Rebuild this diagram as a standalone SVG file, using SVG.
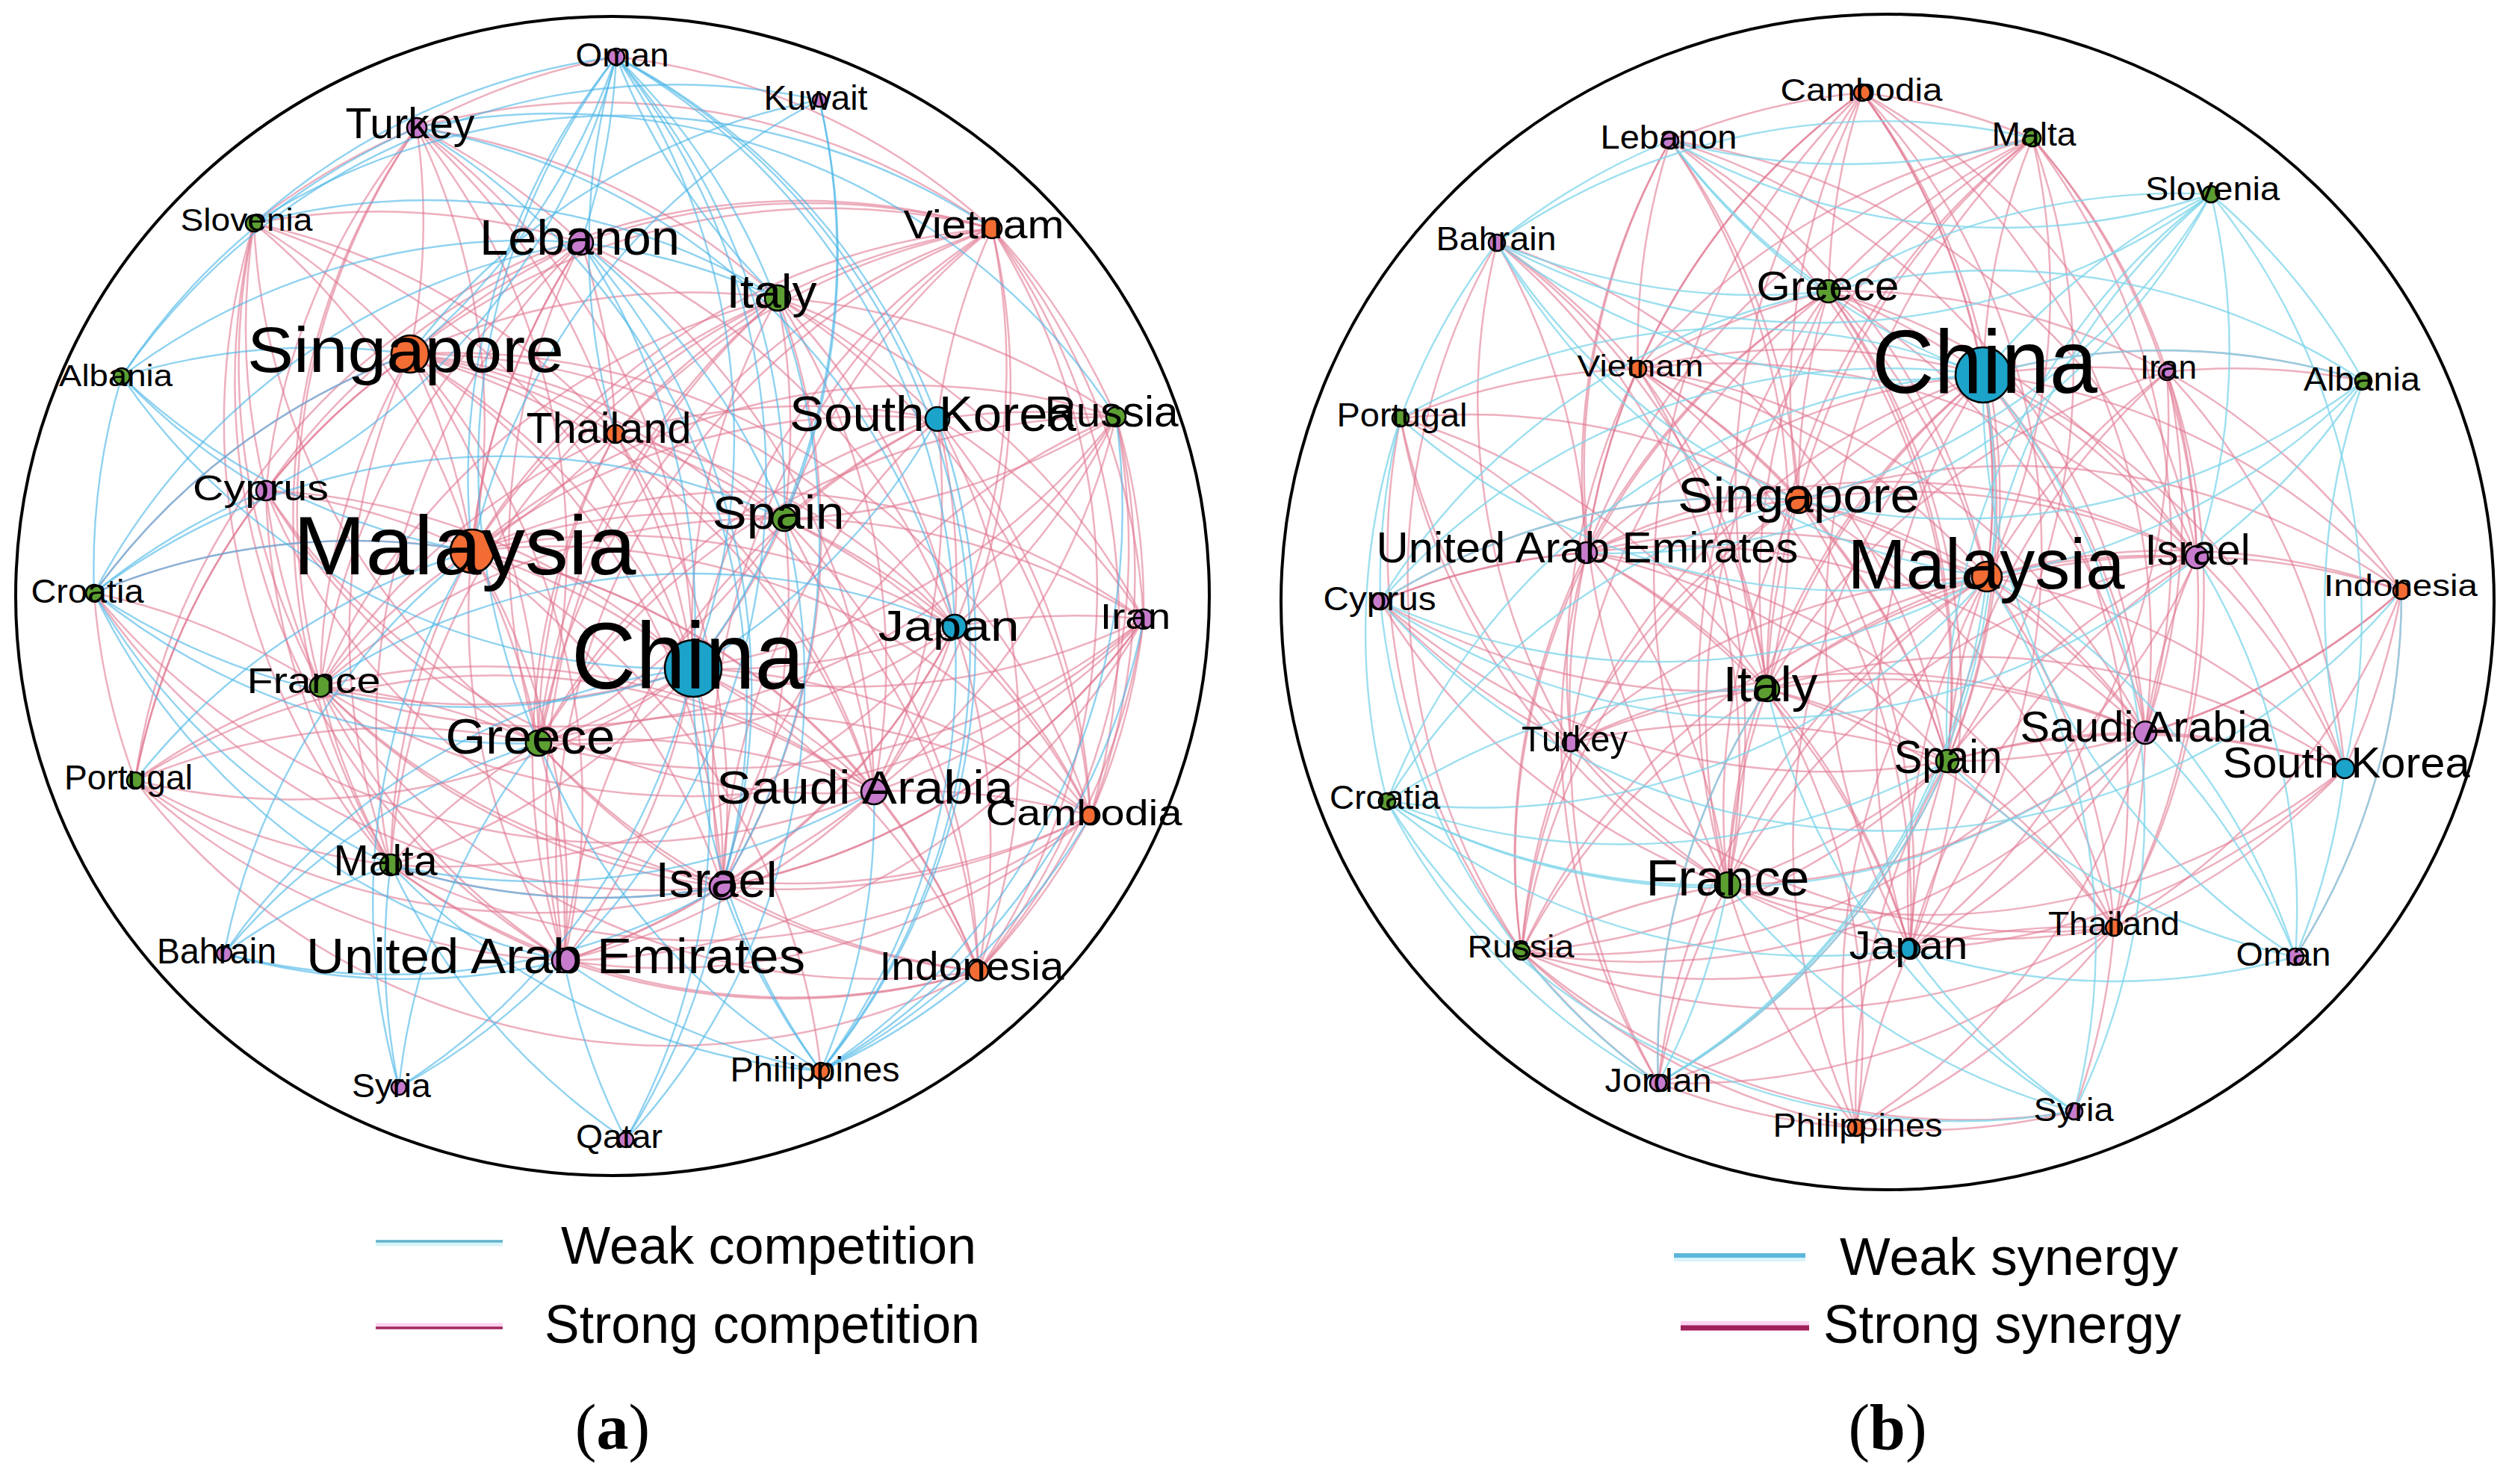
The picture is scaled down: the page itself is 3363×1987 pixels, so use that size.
<svg xmlns="http://www.w3.org/2000/svg" width="3363" height="1987" viewBox="0 0 3363 1987">
<style>
.bg{fill:#fff}
.ring{fill:none;stroke:#000;stroke-width:4}
.pk path{fill:none;stroke:#e0768f;stroke-opacity:.58;stroke-width:2.5}
.bla path{fill:none;stroke:#4ab6e6;stroke-opacity:.62;stroke-width:2.4}
.blb path{fill:none;stroke:#7bd4e9;stroke-opacity:.75;stroke-width:2.4}
.n circle{stroke:#000;stroke-width:2.6}
.b{fill:#1ca3c9}.o{fill:#f26c33}.g{fill:#5c9e31}.p{fill:#c77bcc}
text{font-family:"Liberation Sans",Arial,sans-serif;fill:#000}
.n text{text-anchor:middle}
.cap{font-family:"Liberation Serif","Times New Roman",serif;text-anchor:middle}
</style>
<rect class="bg" x="0" y="0" width="3363" height="1987"/>
<ellipse class="ring" cx="820" cy="798" rx="799" ry="776"/>
<ellipse class="ring" cx="2527" cy="806" rx="812" ry="787"/>

<g id="connectors-a">
<g class="pk">
<path d="M825 76A900 900 0 0 1 1328 306"/><path d="M825 76A900 900 0 0 0 558 171"/>
<path d="M558 171A900 900 0 0 1 549 474"/><path d="M558 171A900 900 0 0 1 632 738"/><path d="M558 171A900 900 0 0 1 778 325"/><path d="M558 171A900 900 0 0 1 1328 306"/><path d="M558 171A900 900 0 0 1 1041 399"/><path d="M558 171A900 900 0 0 0 356 657"/><path d="M558 171A900 900 0 0 0 429 919"/><path d="M558 171A900 900 0 0 1 928 895"/><path d="M558 171A900 900 0 0 0 340 299"/><path d="M558 171A900 900 0 0 1 721 995"/><path d="M558 171A900 900 0 0 0 523 1158"/><path d="M558 171A900 900 0 0 1 824 581"/>
<path d="M340 299A900 900 0 0 1 549 474"/><path d="M340 299A900 900 0 0 1 632 738"/><path d="M340 299A900 900 0 0 0 356 657"/><path d="M340 299A900 900 0 0 0 429 919"/><path d="M340 299A900 900 0 0 1 928 895"/><path d="M340 299A900 900 0 0 1 778 325"/><path d="M340 299A900 900 0 0 0 721 995"/><path d="M340 299A900 900 0 0 1 824 581"/><path d="M340 299A900 900 0 0 0 523 1158"/><path d="M340 299A900 900 0 0 0 755 1286"/>
<path d="M778 325A900 900 0 0 0 549 474"/><path d="M778 325A900 900 0 0 0 632 738"/><path d="M778 325A900 900 0 0 1 1328 306"/><path d="M778 325A900 900 0 0 1 824 581"/><path d="M778 325A900 900 0 0 1 1170 1060"/><path d="M778 325A900 900 0 0 0 721 995"/><path d="M778 325A900 900 0 0 1 1278 839"/><path d="M778 325A900 900 0 0 0 755 1286"/><path d="M778 325A900 900 0 0 0 523 1158"/><path d="M778 325A900 900 0 0 0 356 657"/><path d="M778 325A900 900 0 0 0 429 919"/>
<path d="M1328 306A900 900 0 0 0 1041 399"/><path d="M1328 306A900 900 0 0 0 549 474"/><path d="M1328 306A900 900 0 0 0 632 738"/><path d="M1328 306A900 900 0 0 0 1255 561"/><path d="M1328 306A900 900 0 0 1 1494 558"/><path d="M1328 306A900 900 0 0 1 1278 839"/><path d="M1328 306A900 900 0 0 1 1531 829"/><path d="M1328 306A900 900 0 0 0 928 895"/><path d="M1328 306A900 900 0 0 1 1460 1092"/><path d="M1328 306A900 900 0 0 1 1170 1060"/><path d="M1328 306A900 900 0 0 0 967 1187"/><path d="M1328 306A900 900 0 0 1 1310 1300"/><path d="M1328 306A900 900 0 0 0 824 581"/><path d="M1328 306A900 900 0 0 0 1050 695"/><path d="M1328 306A900 900 0 0 0 721 995"/><path d="M1328 306A900 900 0 0 0 755 1286"/><path d="M1328 306A900 900 0 0 0 181 1045"/>
<path d="M1041 399A900 900 0 0 0 549 474"/><path d="M1041 399A900 900 0 0 0 632 738"/><path d="M1041 399A900 900 0 0 1 1255 561"/><path d="M1041 399A900 900 0 0 1 1494 558"/><path d="M1041 399A900 900 0 0 1 1050 695"/><path d="M1041 399A900 900 0 0 0 928 895"/><path d="M1041 399A900 900 0 0 1 1278 839"/><path d="M1041 399A900 900 0 0 1 1531 829"/><path d="M1041 399A900 900 0 0 0 721 995"/><path d="M1041 399A900 900 0 0 1 1170 1060"/><path d="M1041 399A900 900 0 0 1 967 1187"/><path d="M1041 399A900 900 0 0 0 824 581"/><path d="M1041 399A900 900 0 0 0 429 919"/><path d="M1041 399A900 900 0 0 1 1460 1092"/><path d="M1041 399A900 900 0 0 0 523 1158"/><path d="M1041 399A900 900 0 0 0 755 1286"/>
<path d="M549 474A900 900 0 0 1 632 738"/><path d="M549 474A900 900 0 0 1 824 581"/><path d="M549 474A900 900 0 0 0 356 657"/><path d="M549 474A900 900 0 0 1 1050 695"/><path d="M549 474A900 900 0 0 1 928 895"/><path d="M549 474A900 900 0 0 0 429 919"/><path d="M549 474A900 900 0 0 1 721 995"/><path d="M549 474A900 900 0 0 0 523 1158"/><path d="M549 474A900 900 0 0 1 967 1187"/><path d="M549 474A900 900 0 0 1 755 1286"/><path d="M549 474A900 900 0 0 0 126 794"/><path d="M549 474A900 900 0 0 1 1170 1060"/><path d="M549 474A900 900 0 0 1 1278 839"/><path d="M549 474A900 900 0 0 0 181 1045"/><path d="M549 474A900 900 0 0 1 1310 1300"/><path d="M549 474A900 900 0 0 1 1460 1092"/>
<path d="M824 581A900 900 0 0 1 632 738"/><path d="M824 581A900 900 0 0 1 928 895"/><path d="M824 581A900 900 0 0 1 1050 695"/><path d="M824 581A900 900 0 0 1 1255 561"/><path d="M824 581A900 900 0 0 0 721 995"/><path d="M824 581A900 900 0 0 1 967 1187"/><path d="M824 581A900 900 0 0 1 1170 1060"/><path d="M824 581A900 900 0 0 0 429 919"/><path d="M824 581A900 900 0 0 1 1278 839"/><path d="M824 581A900 900 0 0 0 755 1286"/>
<path d="M1255 561A900 900 0 0 1 1494 558"/><path d="M1255 561A900 900 0 0 0 632 738"/><path d="M1255 561A900 900 0 0 1 1278 839"/><path d="M1255 561A900 900 0 0 1 1531 829"/><path d="M1255 561A900 900 0 0 1 1170 1060"/><path d="M1255 561A900 900 0 0 1 1460 1092"/><path d="M1255 561A900 900 0 0 0 1050 695"/><path d="M1255 561A900 900 0 0 1 1310 1300"/><path d="M1255 561A900 900 0 0 0 721 995"/><path d="M1255 561A900 900 0 0 0 967 1187"/><path d="M1255 561A900 900 0 0 0 755 1286"/>
<path d="M1494 558A900 900 0 0 1 1278 839"/><path d="M1494 558A900 900 0 0 1 1531 829"/><path d="M1494 558A900 900 0 0 1 928 895"/><path d="M1494 558A900 900 0 0 1 1460 1092"/><path d="M1494 558A900 900 0 0 1 1170 1060"/><path d="M1494 558A900 900 0 0 0 632 738"/><path d="M1494 558A900 900 0 0 1 1310 1300"/><path d="M1494 558A900 900 0 0 1 1050 695"/><path d="M1494 558A900 900 0 0 0 721 995"/><path d="M1494 558A900 900 0 0 0 967 1187"/><path d="M1494 558A900 900 0 0 1 429 919"/>
<path d="M356 657A900 900 0 0 1 632 738"/><path d="M356 657A900 900 0 0 0 429 919"/><path d="M356 657A900 900 0 0 1 928 895"/><path d="M356 657A900 900 0 0 0 721 995"/><path d="M356 657A900 900 0 0 0 181 1045"/><path d="M356 657A900 900 0 0 0 523 1158"/><path d="M356 657A900 900 0 0 0 1170 1060"/><path d="M356 657A900 900 0 0 0 967 1187"/>
<path d="M1050 695A900 900 0 0 0 632 738"/><path d="M1050 695A900 900 0 0 1 928 895"/><path d="M1050 695A900 900 0 0 1 1278 839"/><path d="M1050 695A900 900 0 0 1 721 995"/><path d="M1050 695A900 900 0 0 1 1170 1060"/><path d="M1050 695A900 900 0 0 1 967 1187"/><path d="M1050 695A900 900 0 0 1 1531 829"/><path d="M1050 695A900 900 0 0 0 429 919"/><path d="M1050 695A900 900 0 0 1 1460 1092"/><path d="M1050 695A900 900 0 0 1 1310 1300"/>
<path d="M632 738A900 900 0 0 1 928 895"/><path d="M632 738A900 900 0 0 0 429 919"/><path d="M632 738A900 900 0 0 1 721 995"/><path d="M632 738A900 900 0 0 1 1278 839"/><path d="M632 738A900 900 0 0 1 1170 1060"/><path d="M632 738A900 900 0 0 1 967 1187"/><path d="M632 738A900 900 0 0 0 523 1158"/><path d="M632 738A900 900 0 0 1 755 1286"/><path d="M632 738A900 900 0 0 1 1531 829"/><path d="M632 738A900 900 0 0 1 1460 1092"/><path d="M632 738A900 900 0 0 1 1310 1300"/><path d="M632 738A900 900 0 0 0 126 794"/><path d="M632 738A900 900 0 0 1 1099 1434"/>
<path d="M126 794A900 900 0 0 1 429 919"/><path d="M126 794A900 900 0 0 0 181 1045"/><path d="M126 794A900 900 0 0 0 1170 1060"/><path d="M126 794A900 900 0 0 0 967 1187"/>
<path d="M1278 839A900 900 0 0 1 928 895"/><path d="M1278 839A900 900 0 0 1 1531 829"/><path d="M1278 839A900 900 0 0 1 1170 1060"/><path d="M1278 839A900 900 0 0 1 1460 1092"/><path d="M1278 839A900 900 0 0 1 967 1187"/><path d="M1278 839A900 900 0 0 1 1310 1300"/><path d="M1278 839A900 900 0 0 1 721 995"/><path d="M1278 839A900 900 0 0 1 755 1286"/><path d="M1278 839A900 900 0 0 1 523 1158"/>
<path d="M1531 829A900 900 0 0 1 928 895"/><path d="M1531 829A900 900 0 0 1 1170 1060"/><path d="M1531 829A900 900 0 0 1 1460 1092"/><path d="M1531 829A900 900 0 0 1 967 1187"/><path d="M1531 829A900 900 0 0 1 1310 1300"/><path d="M1531 829A900 900 0 0 1 721 995"/><path d="M1531 829A900 900 0 0 1 755 1286"/><path d="M1531 829A900 900 0 0 1 523 1158"/><path d="M1531 829A900 900 0 0 1 429 919"/>
<path d="M928 895A900 900 0 0 1 429 919"/><path d="M928 895A900 900 0 0 1 721 995"/><path d="M928 895A900 900 0 0 1 1170 1060"/><path d="M928 895A900 900 0 0 1 967 1187"/><path d="M928 895A900 900 0 0 1 523 1158"/><path d="M928 895A900 900 0 0 1 755 1286"/><path d="M928 895A900 900 0 0 1 1460 1092"/><path d="M928 895A900 900 0 0 1 1310 1300"/><path d="M928 895A900 900 0 0 1 181 1045"/>
<path d="M429 919A900 900 0 0 1 721 995"/><path d="M429 919A900 900 0 0 0 181 1045"/><path d="M429 919A900 900 0 0 0 523 1158"/><path d="M429 919A900 900 0 0 0 967 1187"/><path d="M429 919A900 900 0 0 0 755 1286"/><path d="M429 919A900 900 0 0 1 1170 1060"/><path d="M429 919A900 900 0 0 0 1310 1300"/><path d="M429 919A900 900 0 0 0 1460 1092"/>
<path d="M721 995A900 900 0 0 1 1170 1060"/><path d="M721 995A900 900 0 0 0 523 1158"/><path d="M721 995A900 900 0 0 0 967 1187"/><path d="M721 995A900 900 0 0 1 755 1286"/><path d="M721 995A900 900 0 0 0 1310 1300"/><path d="M721 995A900 900 0 0 1 1460 1092"/><path d="M721 995A900 900 0 0 0 181 1045"/>
<path d="M181 1045A900 900 0 0 0 523 1158"/><path d="M181 1045A900 900 0 0 0 967 1187"/><path d="M181 1045A900 900 0 0 0 755 1286"/><path d="M181 1045A900 900 0 0 1 1170 1060"/><path d="M181 1045A900 900 0 0 0 1310 1300"/>
<path d="M1170 1060A900 900 0 0 1 1460 1092"/><path d="M1170 1060A900 900 0 0 1 967 1187"/><path d="M1170 1060A900 900 0 0 1 1310 1300"/><path d="M1170 1060A900 900 0 0 1 755 1286"/>
<path d="M1460 1092A900 900 0 0 1 967 1187"/><path d="M1460 1092A900 900 0 0 1 1310 1300"/><path d="M1460 1092A900 900 0 0 1 755 1286"/><path d="M1460 1092A900 900 0 0 1 523 1158"/>
<path d="M523 1158A900 900 0 0 0 755 1286"/><path d="M523 1158A900 900 0 0 0 1310 1300"/><path d="M967 1187A900 900 0 0 1 755 1286"/><path d="M967 1187A900 900 0 0 0 1310 1300"/><path d="M755 1286A900 900 0 0 0 1310 1300"/>
</g>
<g class="bla">
<path d="M825 76A900 900 0 0 1 549 474"/><path d="M825 76A900 900 0 0 0 632 738"/><path d="M825 76A900 900 0 0 1 778 325"/><path d="M825 76A900 900 0 0 0 824 581"/><path d="M825 76A900 900 0 0 0 1041 399"/><path d="M825 76A900 900 0 0 1 1050 695"/><path d="M825 76A900 900 0 0 1 928 895"/><path d="M825 76A900 900 0 0 1 356 657"/><path d="M825 76A900 900 0 0 1 1255 561"/><path d="M825 76A900 900 0 0 1 1278 839"/><path d="M825 76A900 900 0 0 0 721 995"/><path d="M825 76A900 900 0 0 1 967 1187"/><path d="M825 76A900 900 0 0 1 755 1286"/><path d="M825 76A900 900 0 0 0 340 299"/><path d="M825 76A900 900 0 0 1 1099 1434"/>
<path d="M1097 134A900 900 0 0 0 549 474"/><path d="M1097 134A900 900 0 0 0 632 738"/><path d="M1097 134A900 900 0 0 1 928 895"/><path d="M1097 134A900 900 0 0 1 1050 695"/><path d="M1097 134A900 900 0 0 0 163 504"/>
<path d="M163 504A900 900 0 0 1 549 474"/><path d="M163 504A900 900 0 0 1 558 171"/><path d="M163 504A900 900 0 0 1 778 325"/><path d="M163 504A900 900 0 0 0 356 657"/><path d="M163 504A900 900 0 0 0 632 738"/><path d="M163 504A900 900 0 0 0 928 895"/><path d="M163 504A900 900 0 0 0 126 794"/>
<path d="M126 794A900 900 0 0 1 632 738"/><path d="M126 794A900 900 0 0 1 549 474"/><path d="M126 794A900 900 0 0 1 356 657"/><path d="M126 794A900 900 0 0 0 928 895"/><path d="M126 794A900 900 0 0 0 523 1158"/><path d="M126 794A900 900 0 0 0 755 1286"/><path d="M126 794A900 900 0 0 0 721 995"/><path d="M126 794A900 900 0 0 1 1050 695"/><path d="M126 794A900 900 0 0 1 778 325"/>
<path d="M300 1277A900 900 0 0 1 523 1158"/><path d="M300 1277A900 900 0 0 0 755 1286"/><path d="M300 1277A900 900 0 0 0 967 1187"/><path d="M300 1277A900 900 0 0 1 928 895"/><path d="M300 1277A900 900 0 0 1 632 738"/><path d="M300 1277A900 900 0 0 1 721 995"/>
<path d="M534 1456A900 900 0 0 1 523 1158"/><path d="M534 1456A900 900 0 0 0 755 1286"/><path d="M534 1456A900 900 0 0 1 632 738"/><path d="M534 1456A900 900 0 0 0 928 895"/><path d="M534 1456A900 900 0 0 1 721 995"/>
<path d="M838 1526A900 900 0 0 1 755 1286"/><path d="M838 1526A900 900 0 0 0 967 1187"/><path d="M838 1526A900 900 0 0 0 928 895"/><path d="M838 1526A900 900 0 0 0 1050 695"/><path d="M838 1526A900 900 0 0 1 523 1158"/>
<path d="M1099 1434A900 900 0 0 0 1170 1060"/><path d="M1099 1434A900 900 0 0 0 1278 839"/><path d="M1099 1434A900 900 0 0 0 1310 1300"/><path d="M1099 1434A900 900 0 0 1 967 1187"/><path d="M1099 1434A900 900 0 0 1 755 1286"/><path d="M1099 1434A900 900 0 0 1 928 895"/><path d="M1099 1434A900 900 0 0 0 1255 561"/><path d="M1099 1434A900 900 0 0 1 523 1158"/><path d="M1099 1434A900 900 0 0 1 721 995"/><path d="M1099 1434A900 900 0 0 0 1460 1092"/>
<path d="M778 325A900 900 0 0 1 928 895"/><path d="M778 325A900 900 0 0 1 1050 695"/><path d="M778 325A900 900 0 0 1 967 1187"/><path d="M558 171A900 900 0 0 1 967 1187"/><path d="M558 171A900 900 0 0 1 1278 839"/><path d="M558 171A900 900 0 0 1 1494 558"/><path d="M340 299A900 900 0 0 1 1041 399"/><path d="M340 299A900 900 0 0 1 1328 306"/><path d="M778 325A900 900 0 0 1 1041 399"/><path d="M1255 561A900 900 0 0 1 928 895"/><path d="M523 1158A900 900 0 0 0 1170 1060"/><path d="M523 1158A900 900 0 0 0 967 1187"/><path d="M429 919A900 900 0 0 1 1278 839"/><path d="M181 1045A900 900 0 0 1 632 738"/><path d="M1531 829A900 900 0 0 1 1099 1434"/><path d="M1494 558A900 900 0 0 1 1099 1434"/>
</g>
</g>

<g id="connectors-b">
<g class="pk">
<path d="M2493 124A900 900 0 0 0 2236 188"/><path d="M2493 124A900 900 0 0 1 2721 185"/><path d="M2493 124A900 900 0 0 0 2448 390"/><path d="M2493 124A900 900 0 0 1 2655 502"/><path d="M2493 124A900 900 0 0 0 2408 670"/><path d="M2493 124A900 900 0 0 1 2660 772"/><path d="M2493 124A900 900 0 0 0 2193 494"/><path d="M2493 124A900 900 0 0 0 2366 923"/><path d="M2493 124A900 900 0 0 1 2941 746"/><path d="M2493 124A900 900 0 0 0 2124 740"/><path d="M2493 124A900 900 0 0 1 2872 981"/><path d="M2493 124A900 900 0 0 1 2607 1019"/><path d="M2493 124A900 900 0 0 0 2313 1185"/><path d="M2493 124A900 900 0 0 1 2557 1271"/>
<path d="M2236 188A900 900 0 0 1 2408 670"/><path d="M2236 188A900 900 0 0 1 2660 772"/><path d="M2236 188A900 900 0 0 0 2124 740"/><path d="M2236 188A900 900 0 0 1 2366 923"/><path d="M2236 188A900 900 0 0 0 2193 494"/><path d="M2236 188A900 900 0 0 0 2313 1185"/><path d="M2236 188A900 900 0 0 1 2941 746"/><path d="M2236 188A900 900 0 0 1 2607 1019"/><path d="M2236 188A900 900 0 0 1 2872 981"/>
<path d="M2721 185A900 900 0 0 0 2655 502"/><path d="M2721 185A900 900 0 0 0 2448 390"/><path d="M2721 185A900 900 0 0 1 2660 772"/><path d="M2721 185A900 900 0 0 0 2408 670"/><path d="M2721 185A900 900 0 0 1 2941 746"/><path d="M2721 185A900 900 0 0 1 2607 1019"/><path d="M2721 185A900 900 0 0 0 2366 923"/><path d="M2721 185A900 900 0 0 1 2872 981"/><path d="M2721 185A900 900 0 0 0 2557 1271"/><path d="M2721 185A900 900 0 0 0 2313 1185"/><path d="M2721 185A900 900 0 0 1 2901 498"/><path d="M2721 185A900 900 0 0 0 2124 740"/><path d="M2721 185A900 900 0 0 0 2193 494"/>
<path d="M2004 325A900 900 0 0 1 2193 494"/><path d="M2004 325A900 900 0 0 1 2124 740"/><path d="M2004 325A900 900 0 0 1 2366 923"/><path d="M2004 325A900 900 0 0 1 2313 1185"/><path d="M2004 325A900 900 0 0 0 2103 995"/><path d="M2004 325A900 900 0 0 0 2037 1274"/><path d="M2004 325A900 900 0 0 1 2607 1019"/>
<path d="M2448 390A900 900 0 0 1 2655 502"/><path d="M2448 390A900 900 0 0 0 2408 670"/><path d="M2448 390A900 900 0 0 1 2660 772"/><path d="M2448 390A900 900 0 0 0 2193 494"/><path d="M2448 390A900 900 0 0 0 2124 740"/><path d="M2448 390A900 900 0 0 0 2366 923"/><path d="M2448 390A900 900 0 0 1 2941 746"/><path d="M2448 390A900 900 0 0 1 2607 1019"/><path d="M2448 390A900 900 0 0 1 2872 981"/><path d="M2448 390A900 900 0 0 1 2901 498"/><path d="M2448 390A900 900 0 0 0 2313 1185"/><path d="M2448 390A900 900 0 0 1 2557 1271"/><path d="M2448 390A900 900 0 0 0 2037 1274"/><path d="M2448 390A900 900 0 0 0 2103 995"/>
<path d="M2655 502A900 900 0 0 0 2408 670"/><path d="M2655 502A900 900 0 0 1 2660 772"/><path d="M2655 502A900 900 0 0 1 2901 498"/><path d="M2655 502A900 900 0 0 1 3164 510"/><path d="M2655 502A900 900 0 0 1 2941 746"/><path d="M2655 502A900 900 0 0 1 3215 791"/><path d="M2655 502A900 900 0 0 0 2366 923"/><path d="M2655 502A900 900 0 0 1 2872 981"/><path d="M2655 502A900 900 0 0 1 2607 1019"/><path d="M2655 502A900 900 0 0 1 3139 1029"/><path d="M2655 502A900 900 0 0 0 2313 1185"/><path d="M2655 502A900 900 0 0 0 2557 1271"/><path d="M2655 502A900 900 0 0 1 2830 1242"/><path d="M2655 502A900 900 0 0 0 2124 740"/><path d="M2655 502A900 900 0 0 0 2193 494"/><path d="M2655 502A900 900 0 0 0 2485 1510"/><path d="M2655 502A900 900 0 0 0 2037 1274"/>
<path d="M2193 494A900 900 0 0 1 2408 670"/><path d="M2193 494A900 900 0 0 1 2660 772"/><path d="M2193 494A900 900 0 0 0 2124 740"/><path d="M2193 494A900 900 0 0 1 2366 923"/><path d="M2193 494A900 900 0 0 1 2607 1019"/><path d="M2193 494A900 900 0 0 1 2313 1185"/><path d="M2193 494A900 900 0 0 1 2872 981"/><path d="M2193 494A900 900 0 0 0 1875 560"/><path d="M2193 494A900 900 0 0 1 2941 746"/><path d="M2193 494A900 900 0 0 1 2557 1271"/><path d="M2193 494A900 900 0 0 0 2103 995"/>
<path d="M2901 498A900 900 0 0 0 2660 772"/><path d="M2901 498A900 900 0 0 1 2941 746"/><path d="M2901 498A900 900 0 0 1 2872 981"/><path d="M2901 498A900 900 0 0 0 2607 1019"/><path d="M2901 498A900 900 0 0 1 3139 1029"/><path d="M2901 498A900 900 0 0 1 3215 791"/><path d="M2901 498A900 900 0 0 1 2830 1242"/><path d="M2901 498A900 900 0 0 1 3164 510"/><path d="M2901 498A900 900 0 0 1 2557 1271"/><path d="M2901 498A900 900 0 0 0 2366 923"/>
<path d="M1875 560A900 900 0 0 1 2408 670"/><path d="M1875 560A900 900 0 0 1 2124 740"/><path d="M1875 560A900 900 0 0 1 2366 923"/><path d="M1875 560A900 900 0 0 0 2103 995"/><path d="M1875 560A900 900 0 0 0 2313 1185"/><path d="M1875 560A900 900 0 0 0 2037 1274"/>
<path d="M2408 670A900 900 0 0 1 2660 772"/><path d="M2408 670A900 900 0 0 0 2124 740"/><path d="M2408 670A900 900 0 0 0 2366 923"/><path d="M2408 670A900 900 0 0 1 2941 746"/><path d="M2408 670A900 900 0 0 1 2872 981"/><path d="M2408 670A900 900 0 0 1 2607 1019"/><path d="M2408 670A900 900 0 0 0 2313 1185"/><path d="M2408 670A900 900 0 0 1 2557 1271"/><path d="M2408 670A900 900 0 0 1 2830 1242"/><path d="M2408 670A900 900 0 0 0 1848 805"/><path d="M2408 670A900 900 0 0 0 2103 995"/><path d="M2408 670A900 900 0 0 1 3215 791"/><path d="M2408 670A900 900 0 0 0 2037 1274"/>
<path d="M2124 740A900 900 0 0 1 2660 772"/><path d="M2124 740A900 900 0 0 1 2366 923"/><path d="M2124 740A900 900 0 0 0 1848 805"/><path d="M2124 740A900 900 0 0 0 2103 995"/><path d="M2124 740A900 900 0 0 1 2313 1185"/><path d="M2124 740A900 900 0 0 1 2607 1019"/><path d="M2124 740A900 900 0 0 0 2037 1274"/><path d="M2124 740A900 900 0 0 1 2872 981"/><path d="M2124 740A900 900 0 0 1 2557 1271"/><path d="M2124 740A900 900 0 0 0 2220 1450"/><path d="M2124 740A900 900 0 0 1 2941 746"/><path d="M2124 740A900 900 0 0 1 2830 1242"/>
<path d="M2660 772A900 900 0 0 1 2941 746"/><path d="M2660 772A900 900 0 0 1 3215 791"/><path d="M2660 772A900 900 0 0 0 2366 923"/><path d="M2660 772A900 900 0 0 1 2872 981"/><path d="M2660 772A900 900 0 0 0 2607 1019"/><path d="M2660 772A900 900 0 0 1 3139 1029"/><path d="M2660 772A900 900 0 0 0 2313 1185"/><path d="M2660 772A900 900 0 0 0 2557 1271"/><path d="M2660 772A900 900 0 0 1 2830 1242"/><path d="M2660 772A900 900 0 0 0 2037 1274"/><path d="M2660 772A900 900 0 0 0 2485 1510"/><path d="M2660 772A900 900 0 0 0 2103 995"/><path d="M2660 772A900 900 0 0 0 2220 1450"/>
<path d="M2941 746A900 900 0 0 1 3215 791"/><path d="M2941 746A900 900 0 0 0 2872 981"/><path d="M2941 746A900 900 0 0 1 3139 1029"/><path d="M2941 746A900 900 0 0 0 2607 1019"/><path d="M2941 746A900 900 0 0 0 2366 923"/><path d="M2941 746A900 900 0 0 1 2830 1242"/><path d="M2941 746A900 900 0 0 0 2313 1185"/><path d="M2941 746A900 900 0 0 0 2557 1271"/><path d="M2941 746A900 900 0 0 1 2037 1274"/>
<path d="M3215 791A900 900 0 0 1 3139 1029"/><path d="M3215 791A900 900 0 0 1 2872 981"/><path d="M3215 791A900 900 0 0 1 2830 1242"/><path d="M3215 791A900 900 0 0 1 2607 1019"/><path d="M3215 791A900 900 0 0 1 3073 1281"/>
<path d="M1848 805A900 900 0 0 1 2124 740"/><path d="M1848 805A900 900 0 0 0 2103 995"/><path d="M1848 805A900 900 0 0 0 2366 923"/><path d="M1848 805A900 900 0 0 0 2313 1185"/><path d="M1848 805A900 900 0 0 0 2607 1019"/>
<path d="M2366 923A900 900 0 0 1 2607 1019"/><path d="M2366 923A900 900 0 0 1 2872 981"/><path d="M2366 923A900 900 0 0 0 2313 1185"/><path d="M2366 923A900 900 0 0 0 2103 995"/><path d="M2366 923A900 900 0 0 1 2557 1271"/><path d="M2366 923A900 900 0 0 0 2037 1274"/><path d="M2366 923A900 900 0 0 1 2830 1242"/><path d="M2366 923A900 900 0 0 1 2485 1510"/><path d="M2366 923A900 900 0 0 1 3139 1029"/><path d="M2366 923A900 900 0 0 0 2220 1450"/>
<path d="M2103 995A900 900 0 0 0 2313 1185"/><path d="M2103 995A900 900 0 0 0 2037 1274"/><path d="M2103 995A900 900 0 0 1 2607 1019"/><path d="M2103 995A900 900 0 0 0 2220 1450"/><path d="M2103 995A900 900 0 0 1 2872 981"/><path d="M2103 995A900 900 0 0 0 2830 1242"/>
<path d="M2872 981A900 900 0 0 0 2607 1019"/><path d="M2872 981A900 900 0 0 1 3139 1029"/><path d="M2872 981A900 900 0 0 1 2830 1242"/><path d="M2872 981A900 900 0 0 1 2557 1271"/><path d="M2872 981A900 900 0 0 1 2313 1185"/><path d="M2872 981A900 900 0 0 1 2485 1510"/><path d="M2872 981A900 900 0 0 1 2037 1274"/>
<path d="M2607 1019A900 900 0 0 1 2313 1185"/><path d="M2607 1019A900 900 0 0 0 2557 1271"/><path d="M2607 1019A900 900 0 0 1 2830 1242"/><path d="M2607 1019A900 900 0 0 1 3139 1029"/><path d="M2607 1019A900 900 0 0 1 2037 1274"/><path d="M2607 1019A900 900 0 0 0 2485 1510"/><path d="M2607 1019A900 900 0 0 1 2220 1450"/>
<path d="M3139 1029A900 900 0 0 1 2830 1242"/><path d="M3139 1029A900 900 0 0 1 2557 1271"/><path d="M3139 1029A900 900 0 0 1 2313 1185"/>
<path d="M2313 1185A900 900 0 0 0 2037 1274"/><path d="M2313 1185A900 900 0 0 0 2557 1271"/><path d="M2313 1185A900 900 0 0 0 2830 1242"/><path d="M2313 1185A900 900 0 0 0 2485 1510"/><path d="M2313 1185A900 900 0 0 0 2220 1450"/>
<path d="M2037 1274A900 900 0 0 0 2557 1271"/><path d="M2037 1274A900 900 0 0 0 2830 1242"/><path d="M2037 1274A900 900 0 0 0 2485 1510"/><path d="M2037 1274A900 900 0 0 0 2220 1450"/><path d="M2037 1274A900 900 0 0 0 2777 1488"/>
<path d="M2557 1271A900 900 0 0 1 2830 1242"/><path d="M2557 1271A900 900 0 0 0 2485 1510"/><path d="M2557 1271A900 900 0 0 1 2220 1450"/><path d="M2830 1242A900 900 0 0 1 2485 1510"/><path d="M2830 1242A900 900 0 0 1 2777 1488"/><path d="M2830 1242A900 900 0 0 1 2220 1450"/><path d="M2485 1510A900 900 0 0 0 2777 1488"/><path d="M2485 1510A900 900 0 0 1 2220 1450"/>
</g>
<g class="blb">
<path d="M2960 260A900 900 0 0 0 2655 502"/><path d="M2960 260A900 900 0 0 0 2448 390"/><path d="M2960 260A900 900 0 0 1 2004 325"/><path d="M2960 260A900 900 0 0 1 2236 188"/><path d="M2960 260A900 900 0 0 0 2660 772"/><path d="M2960 260A900 900 0 0 1 2941 746"/><path d="M2960 260A900 900 0 0 1 2408 670"/><path d="M2960 260A900 900 0 0 0 2607 1019"/><path d="M2960 260A900 900 0 0 1 3139 1029"/><path d="M2960 260A900 900 0 0 1 3164 510"/><path d="M2960 260A900 900 0 0 1 2124 740"/>
<path d="M3164 510A900 900 0 0 0 2655 502"/><path d="M3164 510A900 900 0 0 1 2660 772"/><path d="M3164 510A900 900 0 0 1 2941 746"/><path d="M3164 510A900 900 0 0 0 3139 1029"/><path d="M3164 510A900 900 0 0 0 2448 390"/><path d="M3164 510A900 900 0 0 1 2408 670"/>
<path d="M1857 1073A900 900 0 0 0 2660 772"/><path d="M1857 1073A900 900 0 0 1 2408 670"/><path d="M1857 1073A900 900 0 0 0 2607 1019"/><path d="M1857 1073A900 900 0 0 0 2313 1185"/><path d="M1857 1073A900 900 0 0 1 2655 502"/><path d="M1857 1073A900 900 0 0 1 2366 923"/><path d="M1857 1073A900 900 0 0 0 2557 1271"/><path d="M1857 1073A900 900 0 0 0 2872 981"/>
<path d="M1848 805A900 900 0 0 1 2655 502"/><path d="M1848 805A900 900 0 0 0 2660 772"/><path d="M1848 805A900 900 0 0 0 2941 746"/><path d="M1848 805A900 900 0 0 1 2448 390"/><path d="M1848 805A900 900 0 0 1 2408 670"/><path d="M1848 805A900 900 0 0 0 3215 791"/>
<path d="M3073 1281A900 900 0 0 0 2660 772"/><path d="M3073 1281A900 900 0 0 0 3139 1029"/><path d="M3073 1281A900 900 0 0 0 2941 746"/><path d="M3073 1281A900 900 0 0 1 2655 502"/><path d="M3073 1281A900 900 0 0 1 2557 1271"/><path d="M3073 1281A900 900 0 0 1 2607 1019"/><path d="M3073 1281A900 900 0 0 0 2872 981"/><path d="M3073 1281A900 900 0 0 0 3215 791"/>
<path d="M2777 1488A900 900 0 0 1 2313 1185"/><path d="M2777 1488A900 900 0 0 0 2660 772"/><path d="M2777 1488A900 900 0 0 1 2557 1271"/><path d="M2777 1488A900 900 0 0 0 2655 502"/><path d="M2777 1488A900 900 0 0 1 2366 923"/><path d="M2777 1488A900 900 0 0 1 1857 1073"/>
<path d="M2220 1450A900 900 0 0 0 2655 502"/><path d="M2220 1450A900 900 0 0 0 2313 1185"/><path d="M2220 1450A900 900 0 0 0 2660 772"/><path d="M2220 1450A900 900 0 0 1 2366 923"/><path d="M2220 1450A900 900 0 0 0 2607 1019"/><path d="M2220 1450A900 900 0 0 1 1857 1073"/><path d="M2220 1450A900 900 0 0 1 1848 805"/>
<path d="M2004 325A900 900 0 0 0 2655 502"/><path d="M2004 325A900 900 0 0 0 2448 390"/><path d="M2004 325A900 900 0 0 1 2721 185"/><path d="M2004 325A900 900 0 0 0 2660 772"/><path d="M2004 325A900 900 0 0 0 2408 670"/><path d="M2004 325A900 900 0 0 0 1875 560"/>
<path d="M1875 560A900 900 0 0 0 1848 805"/><path d="M1875 560A900 900 0 0 0 1857 1073"/><path d="M1875 560A900 900 0 0 1 2655 502"/><path d="M1875 560A900 900 0 0 0 2660 772"/>
<path d="M2236 188A900 900 0 0 0 2655 502"/><path d="M2236 188A900 900 0 0 0 2448 390"/><path d="M2236 188A900 900 0 0 0 2721 185"/><path d="M2236 188A900 900 0 0 0 2004 325"/>
</g>
</g>

<g id="nodes-a" class="n">
<g id="a-oman"><circle class="p" cx="825" cy="76" r="11"/><text x="833" y="89" font-size="44" textLength="125" lengthAdjust="spacingAndGlyphs">Oman</text></g>
<g id="a-kuwait"><circle class="p" cx="1097" cy="134" r="9"/><text x="1092" y="147" font-size="46" textLength="139" lengthAdjust="spacingAndGlyphs">Kuwait</text></g>
<g id="a-turkey"><circle class="p" cx="558" cy="171" r="13"/><text x="549" y="185" font-size="57" textLength="173" lengthAdjust="spacingAndGlyphs">Turkey</text></g>
<g id="a-slovenia"><circle class="g" cx="340" cy="299" r="11"/><text x="330" y="309" font-size="42" textLength="177" lengthAdjust="spacingAndGlyphs">Slovenia</text></g>
<g id="a-lebanon"><circle class="p" cx="778" cy="325" r="16"/><text x="776" y="341" font-size="67" textLength="268" lengthAdjust="spacingAndGlyphs">Lebanon</text></g>
<g id="a-vietnam"><circle class="o" cx="1328" cy="306" r="13"/><text x="1317" y="319" font-size="53" textLength="215" lengthAdjust="spacingAndGlyphs">Vietnam</text></g>
<g id="a-italy"><circle class="g" cx="1041" cy="399" r="17"/><text x="1033" y="412" font-size="63" textLength="121" lengthAdjust="spacingAndGlyphs">Italy</text></g>
<g id="a-singapore"><circle class="o" cx="549" cy="474" r="25"/><text x="543" y="498" font-size="85" textLength="424" lengthAdjust="spacingAndGlyphs">Singapore</text></g>
<g id="a-albania"><circle class="g" cx="163" cy="504" r="11"/><text x="155" y="517" font-size="40" textLength="152" lengthAdjust="spacingAndGlyphs">Albania</text></g>
<g id="a-thailand"><circle class="o" cx="824" cy="581" r="12"/><text x="815" y="593" font-size="57" textLength="221" lengthAdjust="spacingAndGlyphs">Thailand</text></g>
<g id="a-south-korea"><circle class="b" cx="1255" cy="561" r="16"/><text x="1249" y="577" font-size="67" textLength="384" lengthAdjust="spacingAndGlyphs">South Korea</text></g>
<g id="a-russia"><circle class="g" cx="1494" cy="558" r="13"/><text x="1488" y="571" font-size="57" textLength="179" lengthAdjust="spacingAndGlyphs">Russia</text></g>
<g id="a-cyprus"><circle class="p" cx="356" cy="657" r="13"/><text x="349" y="670" font-size="49" textLength="182" lengthAdjust="spacingAndGlyphs">Cyprus</text></g>
<g id="a-spain"><circle class="g" cx="1050" cy="695" r="16"/><text x="1042" y="708" font-size="63" textLength="177" lengthAdjust="spacingAndGlyphs">Spain</text></g>
<g id="a-malaysia"><circle class="o" cx="632" cy="738" r="29"/><text x="622" y="769" font-size="112" textLength="459" lengthAdjust="spacingAndGlyphs">Malaysia</text></g>
<g id="a-croatia"><circle class="g" cx="126" cy="794" r="11"/><text x="117" y="807" font-size="45" textLength="151" lengthAdjust="spacingAndGlyphs">Croatia</text></g>
<g id="a-japan"><circle class="b" cx="1278" cy="839" r="16"/><text x="1270" y="858" font-size="57" textLength="189" lengthAdjust="spacingAndGlyphs">Japan</text></g>
<g id="a-iran"><circle class="p" cx="1531" cy="829" r="13"/><text x="1520" y="842" font-size="49" textLength="94" lengthAdjust="spacingAndGlyphs">Iran</text></g>
<g id="a-china"><circle class="b" cx="928" cy="895" r="38"/><text x="921" y="922" font-size="126" textLength="312" lengthAdjust="spacingAndGlyphs">China</text></g>
<g id="a-france"><circle class="g" cx="429" cy="919" r="14"/><text x="420" y="928" font-size="49" textLength="179" lengthAdjust="spacingAndGlyphs">France</text></g>
<g id="a-greece"><circle class="g" cx="721" cy="995" r="17"/><text x="710" y="1009" font-size="67" textLength="227" lengthAdjust="spacingAndGlyphs">Greece</text></g>
<g id="a-portugal"><circle class="g" cx="181" cy="1045" r="11"/><text x="172" y="1057" font-size="46" textLength="172" lengthAdjust="spacingAndGlyphs">Portugal</text></g>
<g id="a-saudi-arabia"><circle class="p" cx="1170" cy="1060" r="17"/><text x="1158" y="1076" font-size="63" textLength="398" lengthAdjust="spacingAndGlyphs">Saudi Arabia</text></g>
<g id="a-cambodia"><circle class="o" cx="1460" cy="1092" r="12"/><text x="1451" y="1105" font-size="49" textLength="263" lengthAdjust="spacingAndGlyphs">Cambodia</text></g>
<g id="a-malta"><circle class="g" cx="523" cy="1158" r="14"/><text x="516" y="1172" font-size="57" textLength="139" lengthAdjust="spacingAndGlyphs">Malta</text></g>
<g id="a-israel"><circle class="p" cx="967" cy="1187" r="17"/><text x="959" y="1201" font-size="67" textLength="163" lengthAdjust="spacingAndGlyphs">Israel</text></g>
<g id="a-bahrain"><circle class="p" cx="300" cy="1277" r="10"/><text x="290" y="1290" font-size="49" textLength="160" lengthAdjust="spacingAndGlyphs">Bahrain</text></g>
<g id="a-uae"><circle class="p" cx="755" cy="1286" r="16"/><text x="744" y="1303" font-size="67" textLength="668" lengthAdjust="spacingAndGlyphs">United Arab Emirates</text></g>
<g id="a-indonesia"><circle class="o" cx="1310" cy="1300" r="13"/><text x="1301" y="1312" font-size="53" textLength="247" lengthAdjust="spacingAndGlyphs">Indonesia</text></g>
<g id="a-philippines"><circle class="o" cx="1099" cy="1434" r="11"/><text x="1091" y="1448" font-size="46" textLength="227" lengthAdjust="spacingAndGlyphs">Philippines</text></g>
<g id="a-syria"><circle class="p" cx="534" cy="1456" r="10"/><text x="524" y="1469" font-size="45" textLength="106" lengthAdjust="spacingAndGlyphs">Syria</text></g>
<g id="a-qatar"><circle class="p" cx="838" cy="1526" r="10"/><text x="829" y="1537" font-size="44" textLength="116" lengthAdjust="spacingAndGlyphs">Qatar</text></g>
</g>

<g id="nodes-b" class="n">
<g id="b-cambodia"><circle class="o" cx="2493" cy="124" r="11"/><text x="2492" y="135" font-size="42" textLength="217" lengthAdjust="spacingAndGlyphs">Cambodia</text></g>
<g id="b-lebanon"><circle class="p" cx="2236" cy="188" r="11"/><text x="2234" y="199" font-size="45" textLength="183" lengthAdjust="spacingAndGlyphs">Lebanon</text></g>
<g id="b-malta"><circle class="g" cx="2721" cy="185" r="11"/><text x="2723" y="195" font-size="45" textLength="113" lengthAdjust="spacingAndGlyphs">Malta</text></g>
<g id="b-slovenia"><circle class="g" cx="2960" cy="260" r="11"/><text x="2962" y="268" font-size="45" textLength="180" lengthAdjust="spacingAndGlyphs">Slovenia</text></g>
<g id="b-bahrain"><circle class="p" cx="2004" cy="325" r="11"/><text x="2003" y="335" font-size="45" textLength="161" lengthAdjust="spacingAndGlyphs">Bahrain</text></g>
<g id="b-greece"><circle class="g" cx="2448" cy="390" r="15"/><text x="2447" y="402" font-size="56" textLength="191" lengthAdjust="spacingAndGlyphs">Greece</text></g>
<g id="b-china"><circle class="b" cx="2655" cy="502" r="37"/><text x="2657" y="526" font-size="120" textLength="302" lengthAdjust="spacingAndGlyphs">China</text></g>
<g id="b-vietnam"><circle class="o" cx="2193" cy="494" r="11"/><text x="2196" y="504" font-size="40" textLength="169" lengthAdjust="spacingAndGlyphs">Vietnam</text></g>
<g id="b-iran"><circle class="p" cx="2901" cy="498" r="11"/><text x="2903" y="507" font-size="45" textLength="76" lengthAdjust="spacingAndGlyphs">Iran</text></g>
<g id="b-albania"><circle class="g" cx="3164" cy="510" r="11"/><text x="3162" y="523" font-size="45" textLength="156" lengthAdjust="spacingAndGlyphs">Albania</text></g>
<g id="b-portugal"><circle class="g" cx="1875" cy="560" r="11"/><text x="1877" y="571" font-size="45" textLength="175" lengthAdjust="spacingAndGlyphs">Portugal</text></g>
<g id="b-singapore"><circle class="o" cx="2408" cy="670" r="17"/><text x="2408" y="686" font-size="67" textLength="324" lengthAdjust="spacingAndGlyphs">Singapore</text></g>
<g id="b-uae"><circle class="p" cx="2124" cy="740" r="14"/><text x="2125" y="753" font-size="57" textLength="565" lengthAdjust="spacingAndGlyphs">United Arab Emirates</text></g>
<g id="b-malaysia"><circle class="o" cx="2660" cy="772" r="20"/><text x="2659" y="788" font-size="94" textLength="371" lengthAdjust="spacingAndGlyphs">Malaysia</text></g>
<g id="b-israel"><circle class="p" cx="2941" cy="746" r="15"/><text x="2942" y="756" font-size="57" textLength="141" lengthAdjust="spacingAndGlyphs">Israel</text></g>
<g id="b-indonesia"><circle class="o" cx="3215" cy="791" r="11"/><text x="3214" y="798" font-size="40" textLength="206" lengthAdjust="spacingAndGlyphs">Indonesia</text></g>
<g id="b-cyprus"><circle class="p" cx="1848" cy="805" r="11"/><text x="1847" y="817" font-size="45" textLength="151" lengthAdjust="spacingAndGlyphs">Cyprus</text></g>
<g id="b-italy"><circle class="g" cx="2366" cy="923" r="16"/><text x="2370" y="939" font-size="67" textLength="127" lengthAdjust="spacingAndGlyphs">Italy</text></g>
<g id="b-turkey"><circle class="p" cx="2103" cy="995" r="11"/><text x="2108" y="1006" font-size="49" textLength="142" lengthAdjust="spacingAndGlyphs">Turkey</text></g>
<g id="b-saudi-arabia"><circle class="p" cx="2872" cy="981" r="15"/><text x="2873" y="993" font-size="57" textLength="337" lengthAdjust="spacingAndGlyphs">Saudi Arabia</text></g>
<g id="b-spain"><circle class="g" cx="2607" cy="1019" r="15"/><text x="2608" y="1035" font-size="63" textLength="145" lengthAdjust="spacingAndGlyphs">Spain</text></g>
<g id="b-south-korea"><circle class="b" cx="3139" cy="1029" r="13"/><text x="3141" y="1041" font-size="57" textLength="331" lengthAdjust="spacingAndGlyphs">South Korea</text></g>
<g id="b-croatia"><circle class="g" cx="1857" cy="1073" r="11"/><text x="1854" y="1083" font-size="45" textLength="148" lengthAdjust="spacingAndGlyphs">Croatia</text></g>
<g id="b-france"><circle class="g" cx="2313" cy="1185" r="17"/><text x="2313" y="1199" font-size="68" textLength="219" lengthAdjust="spacingAndGlyphs">France</text></g>
<g id="b-russia"><circle class="g" cx="2037" cy="1274" r="11"/><text x="2036" y="1282" font-size="42" textLength="143" lengthAdjust="spacingAndGlyphs">Russia</text></g>
<g id="b-japan"><circle class="b" cx="2557" cy="1271" r="13"/><text x="2555" y="1284" font-size="53" textLength="159" lengthAdjust="spacingAndGlyphs">Japan</text></g>
<g id="b-thailand"><circle class="o" cx="2830" cy="1242" r="11"/><text x="2830" y="1252" font-size="45" textLength="176" lengthAdjust="spacingAndGlyphs">Thailand</text></g>
<g id="b-oman"><circle class="p" cx="3073" cy="1281" r="11"/><text x="3057" y="1293" font-size="44" textLength="127" lengthAdjust="spacingAndGlyphs">Oman</text></g>
<g id="b-jordan"><circle class="p" cx="2220" cy="1450" r="11"/><text x="2220" y="1462" font-size="45" textLength="143" lengthAdjust="spacingAndGlyphs">Jordan</text></g>
<g id="b-philippines"><circle class="o" cx="2485" cy="1510" r="11"/><text x="2487" y="1522" font-size="44" textLength="227" lengthAdjust="spacingAndGlyphs">Philippines</text></g>
<g id="b-syria"><circle class="p" cx="2777" cy="1488" r="11"/><text x="2776" y="1501" font-size="45" textLength="107" lengthAdjust="spacingAndGlyphs">Syria</text></g>
</g>

<g id="legend-a">
<line x1="503" y1="1666" x2="673" y2="1666" stroke="#d8f4fb" stroke-width="5"/>
<line x1="503" y1="1662" x2="673" y2="1662" stroke="#62b3c9" stroke-width="3.5"/>
<line x1="503" y1="1774" x2="673" y2="1774" stroke="#fbd3f0" stroke-width="5"/>
<line x1="503" y1="1778" x2="673" y2="1778" stroke="#a3285e" stroke-width="3.5"/>
<text x="751" y="1692" font-size="70" textLength="556" lengthAdjust="spacingAndGlyphs">Weak competition</text>
<text x="729" y="1798" font-size="72" textLength="583" lengthAdjust="spacingAndGlyphs">Strong competition</text>
</g>
<g id="legend-b">
<line x1="2241" y1="1686" x2="2417" y2="1686" stroke="#d8f4fb" stroke-width="6"/>
<line x1="2241" y1="1681" x2="2417" y2="1681" stroke="#5cb6dc" stroke-width="6"/>
<line x1="2250" y1="1772" x2="2422" y2="1772" stroke="#fbd3f0" stroke-width="6"/>
<line x1="2250" y1="1778" x2="2422" y2="1778" stroke="#a0205a" stroke-width="7"/>
<text x="2463" y="1707" font-size="70" textLength="453" lengthAdjust="spacingAndGlyphs">Weak synergy</text>
<text x="2441" y="1798" font-size="72" textLength="479" lengthAdjust="spacingAndGlyphs">Strong synergy</text>
</g>
<text class="cap" x="820" y="1940" font-size="86">(<tspan font-weight="bold">a</tspan>)</text>
<text class="cap" x="2527" y="1940" font-size="86">(<tspan font-weight="bold">b</tspan>)</text>
</svg>
